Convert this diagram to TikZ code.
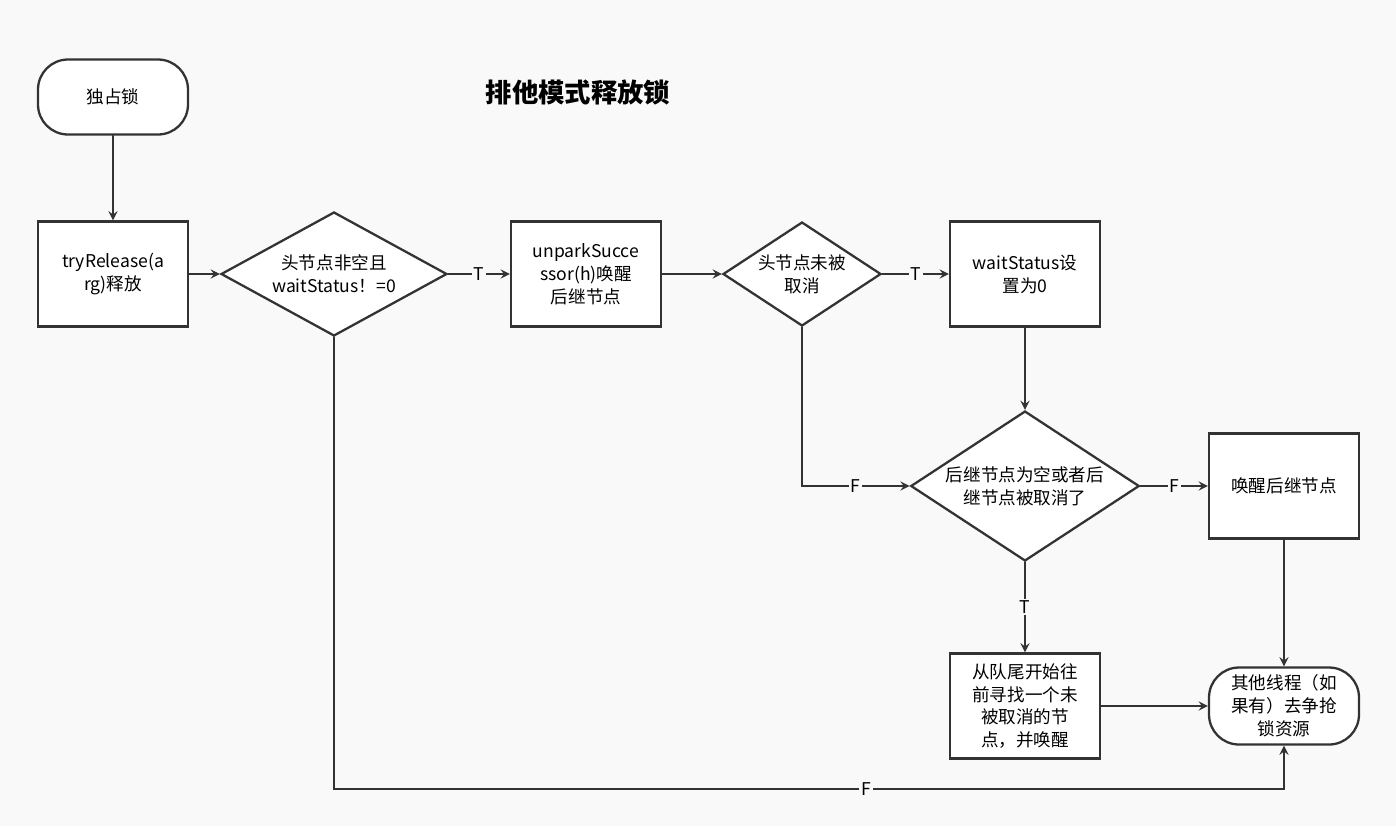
\documentclass[tikz,border=0pt]{standalone}
\usepackage{fontspec}
\setmainfont{Noto Sans CJK SC}
\usetikzlibrary{shapes.geometric}
\definecolor{bg}{HTML}{F9F9F9}
\definecolor{ln}{HTML}{333333}
\begin{document}
\begin{tikzpicture}[x=0.02cm,y=-0.02cm,line cap=round,
  box/.style={draw=ln,line width=1.3pt,fill=white,minimum width=3cm,minimum height=2.1cm,inner sep=0pt,align=center,font=\fontsize{10}{13}\selectfont},
  term/.style={box,rounded corners=0.6cm,minimum height=1.5cm},
  dec/.style={draw=ln,line width=1.3pt,fill=white,diamond,aspect=1.8,inner sep=0pt,align=center,font=\fontsize{10}{13}\selectfont},
  flow/.style={draw=ln,line width=1.3pt,-stealth},
  lbl/.style={fill=bg,inner sep=1pt,font=\fontsize{10}{12}\selectfont}]
		% Background
		\fill[bg] (0,0) rectangle (1396,826);
		\useasboundingbox (0,0) rectangle (1396,826);
		
		% Title
		\node[font=\fontsize{15}{18}\selectfont\bfseries] (title) at (578,92) {排他模式释放锁};
		
		% Nodes
		\node[term] (lock) at (113,97) {独占锁};
		\node[box] (try) at (113,274) {tryRelease(a\\rg)释放};
		\node[dec,minimum width=4.52cm,minimum height=2.48cm] (head) at (334,274) {头节点非空且\\waitStatus！=0};
		\node[box] (unpark) at (586,274) {unparkSucce\\ssor(h)唤醒\\后继节点};
		\node[dec,minimum width=2.72cm,minimum height=2.08cm] (cancel) at (802,274) {头节点未被\\取消};
		\node[box] (status) at (1025,274) {waitStatus设\\置为0};
		\node[dec,minimum width=4.48cm,minimum height=3cm] (succ) at (1025,486) {后继节点为空或者后\\继节点被取消了};
		\node[box] (wake) at (1284,486) {唤醒后继节点};
		\node[box] (scan) at (1025,706) {从队尾开始往\\前寻找一个未\\被取消的节\\点，并唤醒};
		\node[term,minimum height=1.54cm] (done) at (1284,706) {其他线程（如\\果有）去争抢\\锁资源};
		\coordinate (bottom) at (334,789);
		
		% Connectors
		\draw[flow] (lock) -- (try);
		\draw[flow] (try) -- (head);
		\draw[flow] (head) -- node[lbl] {T} (unpark);
		\draw[flow] (unpark) -- (cancel);
		\draw[flow] (cancel) -- node[lbl] {T} (status);
		\draw[flow] (cancel) |- node[lbl,pos=0.75] {F} (succ);
		\draw[flow] (status) -- (succ);
		\draw[flow] (succ) -- node[lbl] {F} (wake);
		\draw[flow] (succ) -- node[lbl] {T} (scan);
		\draw[flow] (scan) -- (done);
		\draw[flow] (wake) -- (done);
		\draw[flow] (head) -- (bottom) -| node[lbl,pos=0.28] {F} (done);
	\end{tikzpicture}
\end{document}
